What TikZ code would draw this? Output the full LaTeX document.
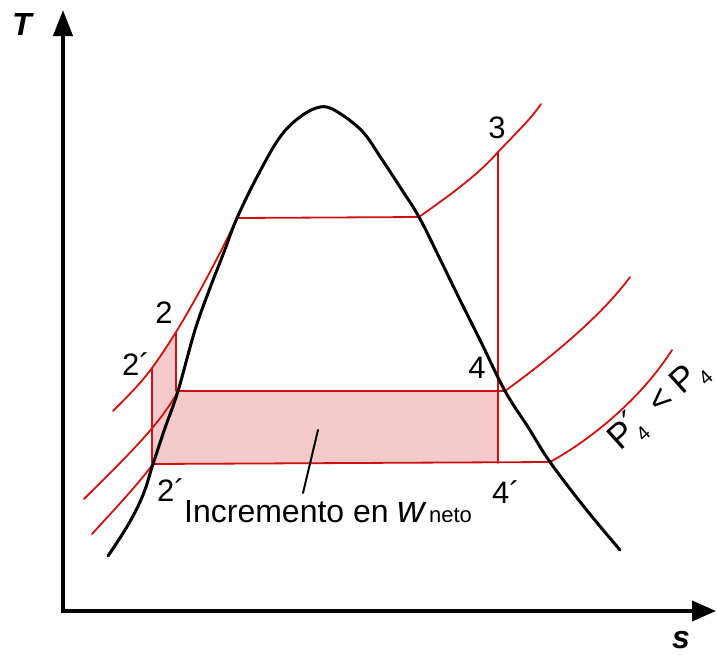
\documentclass[tikz,border=0pt]{standalone}
\usepackage{fontspec}
\setmainfont{Liberation Sans}
\usetikzlibrary{arrows.meta}
\definecolor{linered}{RGB}{208,16,16}
\definecolor{workfill}{RGB}{244,202,202}
\begin{document}
\begin{tikzpicture}[x=1pt,y=-1pt,line cap=round,line join=round]
  \tikzset{
    axis/.style={draw=black,line width=4pt,line join=miter,line cap=butt,
      {Triangle[length=26pt,width=19pt]}-{Triangle[length=24pt,width=20pt]}},
    dome/.style={draw=black,line width=3pt},
    isobar/.style={draw=linered,line width=1.8pt},
    lbl/.style={inner sep=0pt,font=\fontsize{31}{36}\selectfont},
    axlbl/.style={inner sep=0pt,font=\fontsize{32}{36}\selectfont\bfseries\itshape},
  }
  \useasboundingbox (0,0) rectangle (717,654);
  % State points of the two cycles.
  \coordinate (c2a) at (152,368);
  \coordinate (c2) at (176,332);
  \coordinate (cf) at (237,218);
  \coordinate (cg) at (419,217);
  \coordinate (c3) at (498,152);
  \coordinate (c1) at (178,391);
  \coordinate (c4) at (498,391);
  \coordinate (cg4) at (505,391);
  \coordinate (c1a) at (153,464);
  \coordinate (c4a) at (498,463);
  \coordinate (cg4a) at (550,462);
  % Extra net work from the lower condenser pressure.
  \fill[workfill] (c2a) .. controls (160,357) and (168,345) .. (c2) -- (c2 |- c1)
    -- (c4) -- (c4a) -- (c2a |- c4a) -- cycle;
  \draw[axis] (63,10) -- (63,611) -- (716,611);
  \node[axlbl] (T) at (22,24) {T};
  \node[axlbl] (s) at (681,640) {s};
  % Boiler isobar with superheat.
  \draw[isobar] (113,411) .. controls (128,396) and (141,383) .. (c2a)
    .. controls (160,357) and (168,345) .. (c2)
    .. controls (190,310) and (220,255) .. (cf) -- (cg)
    .. controls (450,195) and (478,175) .. (c3)
    .. controls (516,133) and (530,120) .. (541,104);
  % Condenser isobars P4 and P'4.
  \draw[isobar] (84,499) .. controls (125,458) and (160,425) .. (c1) -- (cg4)
    .. controls (545,362) and (600,318) .. (630,277);
  \draw[isobar] (92,534) .. controls (112,512) and (135,488) .. (c1a) -- (cg4a)
    .. controls (590,440) and (640,400) .. (672,350);
  \draw[isobar] (c2) -- (c2 |- c1);
  \draw[isobar] (c2a) -- (c2a |- c4a);
  \draw[isobar] (c3) -- (c4a);
  % Saturation dome.
  \draw[dome] plot[smooth,tension=0.6] coordinates {(108,556) (128,525) (143,495) (c1a)
    (165,428) (c1) (195,330) (210,288) (224,252) (cf) (258,175) (280,137) (300,117)
    (320,107) (336,111) (362,131) (381,158) (400,187) (cg) (440,259) (460,300)
    (480,340) (cg4) (528,427) (cg4a) (585,508) (620,550)};
  \node[lbl] (l3) at (497,128) {3};
  \node[lbl] (l2) at (164,313) {2};
  \node[lbl] (l2a) at (136,364) {2´};
  \node[lbl] (l4) at (477,368) {4};
  \node[lbl] (l2b) at (171,490) {2´};
  \node[lbl] (l4a) at (506,492) {4´};
  \node[lbl,anchor=base west,font=\fontsize{32}{36}\selectfont] (incr) at (184,522)
    {Incremento en {\fontsize{38}{38}\selectfont\itshape w}\kern4pt{\fontsize{22}{22}\selectfont neto}};
  \coordinate (ptr) at (318,430);
  \coordinate (tip) at (303,493);
  \draw[line width=2pt] (ptr) -- (tip);
  \node[lbl,rotate=42,anchor=base west,font=\fontsize{35}{40}\selectfont] (press) at (620,452)
    {P\rlap{\raisebox{2pt}{´}}\raisebox{-9pt}{\fontsize{20}{20}\selectfont 4}\ \ <\ P\raisebox{-9pt}{\fontsize{20}{20}\selectfont 4}};
\end{tikzpicture}
\end{document}
